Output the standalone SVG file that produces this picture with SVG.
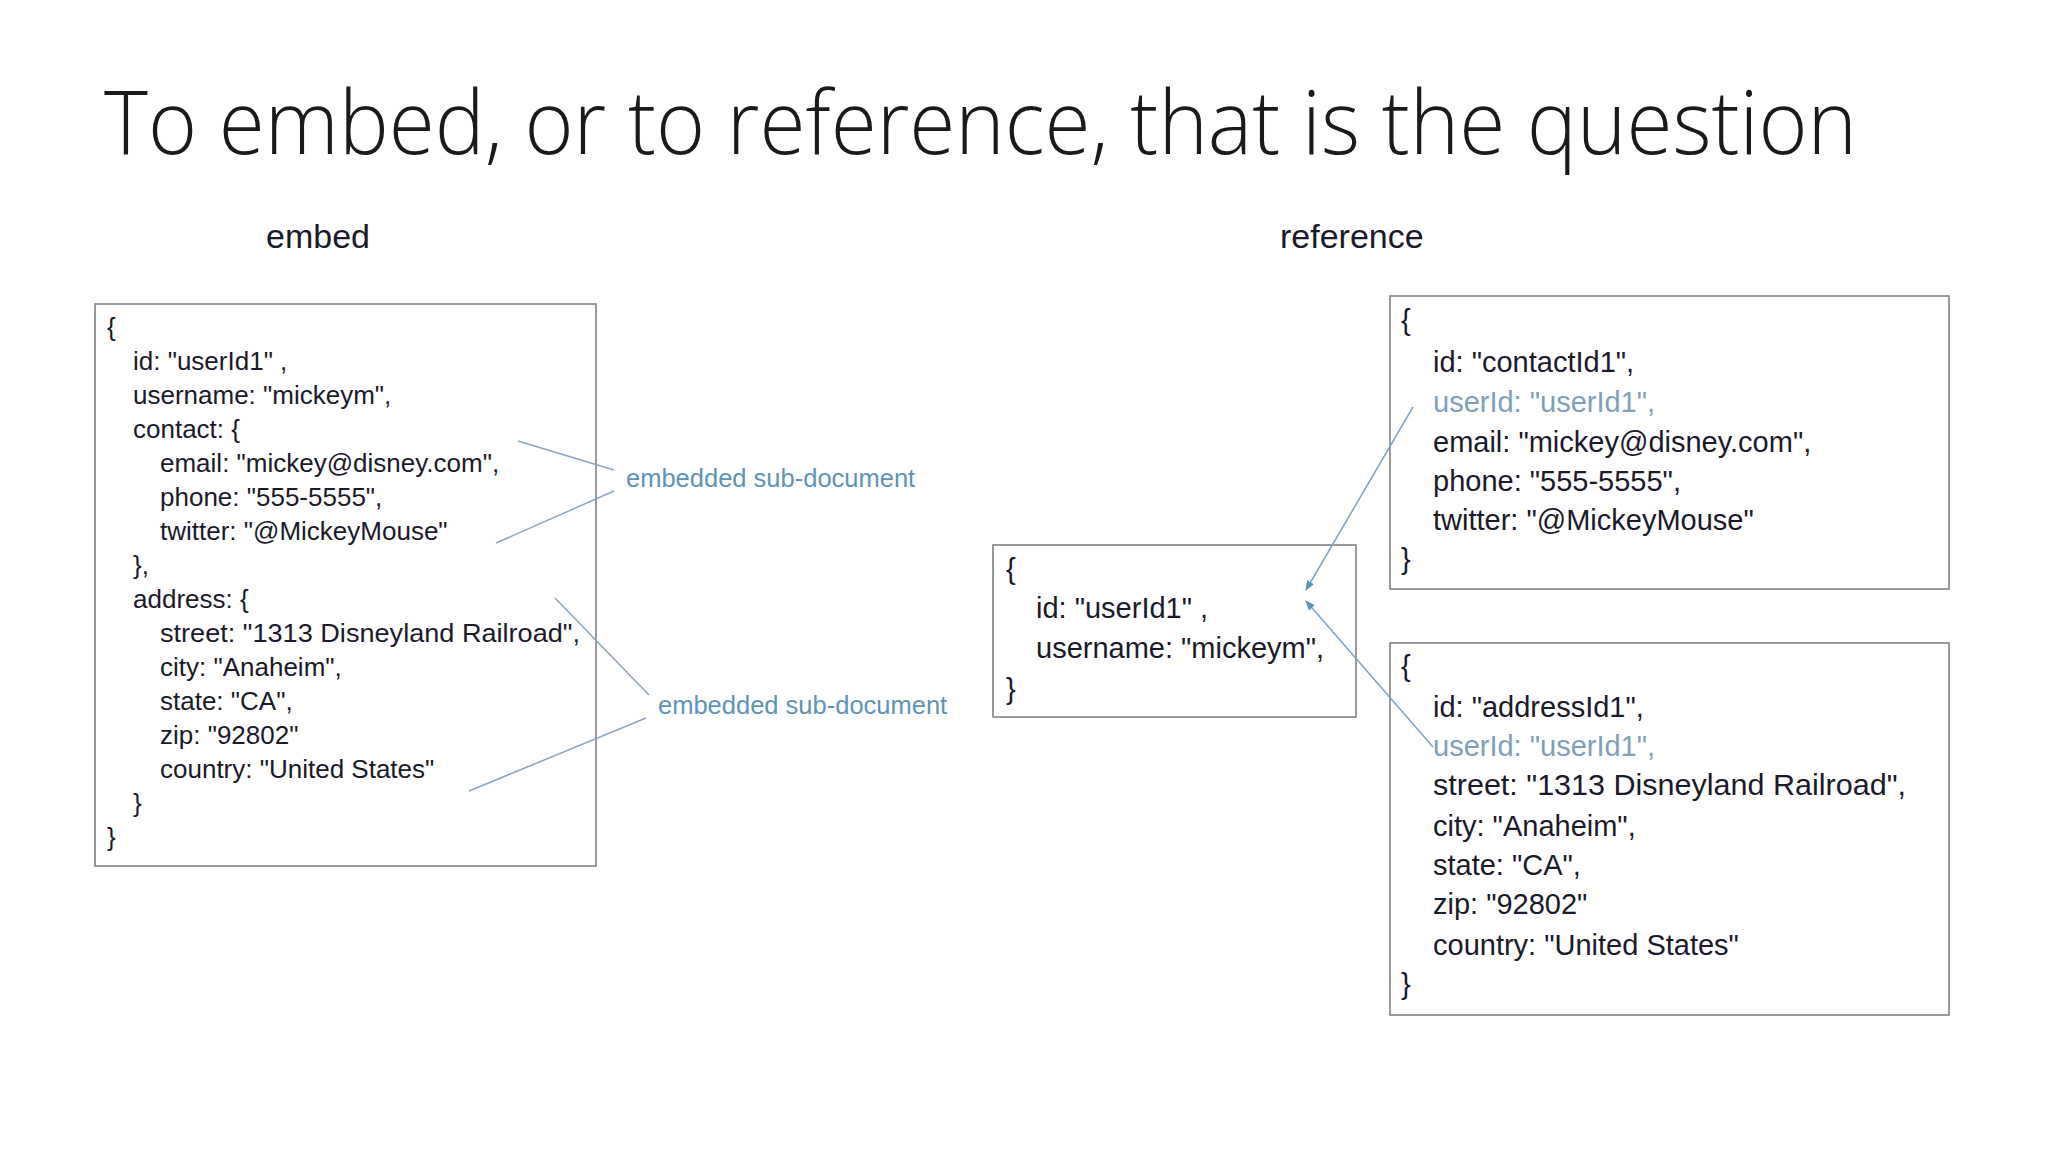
<svg xmlns="http://www.w3.org/2000/svg" width="2048" height="1152" viewBox="0 0 2048 1152">
<defs>
<style>
.t{font-family:"Liberation Sans",Arial,sans-serif;fill:#1a1a2a}
.s{font-size:26px}
.m{font-size:29px}
.b{fill:#7e9fbd}
.lab{font-family:"Liberation Sans",Arial,sans-serif;font-size:25.5px;fill:#5e93b8}
.box{fill:#fff;stroke:#7a7a7a;stroke-width:1.5}
.ln{stroke:#8da5bc;stroke-width:1.5;fill:none}
.ar{stroke:#7aa3c6;stroke-width:1.5;fill:none;marker-end:url(#ah)}
</style>
<marker id="ah" markerWidth="10" markerHeight="10" refX="9" refY="5" orient="auto" markerUnits="userSpaceOnUse"><path d="M0,1 L10,5 L0,9 z" fill="#5e93b8"/></marker>
</defs>
<rect width="2048" height="1152" fill="#fff"/>
<text x="104" y="154" font-family="'Open Sans','Liberation Sans',sans-serif" font-size="88" font-weight="300" fill="#1a1a1a" textLength="1753" lengthAdjust="spacingAndGlyphs">To embed, or to reference, that is the question</text>
<text class="t" x="266" y="248" font-size="34">embed</text>
<text class="t" x="1280" y="248" font-size="34">reference</text>

<g id="embed-doc">
<rect class="box" x="95" y="304" width="501" height="562"/>
<text class="t s" x="107" y="336">{</text>
<text class="t s" x="133" y="370">id: "userId1" ,</text>
<text class="t s" x="133" y="404">username: "mickeym",</text>
<text class="t s" x="133" y="438">contact: {</text>
<text class="t s" x="160" y="472">email: "mickey@disney.com",</text>
<text class="t s" x="160" y="506">phone: "555-5555",</text>
<text class="t s" x="160" y="540">twitter: "@MickeyMouse"</text>
<text class="t s" x="133" y="574">},</text>
<text class="t s" x="133" y="608">address: {</text>
<text class="t s" x="160" y="642" textLength="420" lengthAdjust="spacingAndGlyphs">street: "1313 Disneyland Railroad",</text>
<text class="t s" x="160" y="676">city: "Anaheim",</text>
<text class="t s" x="160" y="710">state: "CA",</text>
<text class="t s" x="160" y="744">zip: "92802"</text>
<text class="t s" x="160" y="778">country: "United States"</text>
<text class="t s" x="133" y="812">}</text>
<text class="t s" x="107" y="846">}</text>
</g>
<g id="label-contact"><text class="lab" x="626" y="487">embedded sub-document</text></g>
<g id="label-address"><text class="lab" x="658" y="714">embedded sub-document</text></g>

<g id="user-doc">
<rect class="box" x="993" y="545" width="363" height="172"/>
<text class="t m" x="1006" y="579">{</text>
<text class="t m" x="1036" y="618">id: "userId1" ,</text>
<text class="t m" x="1036" y="658">username: "mickeym",</text>
<text class="t m" x="1006" y="699">}</text>
</g>

<g id="contact-doc">
<rect class="box" x="1390" y="296" width="559" height="293"/>
<text class="t m" x="1401" y="330">{</text>
<text class="t m" x="1433" y="372">id: "contactId1",</text>
<text class="t m b" x="1433" y="412">userId: "userId1",</text>
<text class="t m" x="1433" y="452">email: "mickey@disney.com",</text>
<text class="t m" x="1433" y="491">phone: "555-5555",</text>
<text class="t m" x="1433" y="530">twitter: "@MickeyMouse"</text>
<text class="t m" x="1401" y="569">}</text>
</g>

<g id="address-doc">
<rect class="box" x="1390" y="643" width="559" height="372"/>
<text class="t m" x="1401" y="676">{</text>
<text class="t m" x="1433" y="717">id: "addressId1",</text>
<text class="t m b" x="1433" y="756">userId: "userId1",</text>
<text class="t m" x="1433" y="795" textLength="473" lengthAdjust="spacingAndGlyphs">street: "1313 Disneyland Railroad",</text>
<text class="t m" x="1433" y="836">city: "Anaheim",</text>
<text class="t m" x="1433" y="875">state: "CA",</text>
<text class="t m" x="1433" y="914">zip: "92802"</text>
<text class="t m" x="1433" y="955">country: "United States"</text>
<text class="t m" x="1401" y="994">}</text>
</g>

<g id="connectors">
<line class="ln" x1="518" y1="441" x2="614" y2="470"/>
<line class="ln" x1="496" y1="543" x2="614" y2="491"/>
<line class="ln" x1="555" y1="598" x2="649" y2="695"/>
<line class="ln" x1="469" y1="791" x2="646" y2="718"/>
<line class="ar" x1="1413" y1="407" x2="1306" y2="590"/>
<line class="ar" x1="1433" y1="747" x2="1306" y2="601"/>
</g>
</svg>
